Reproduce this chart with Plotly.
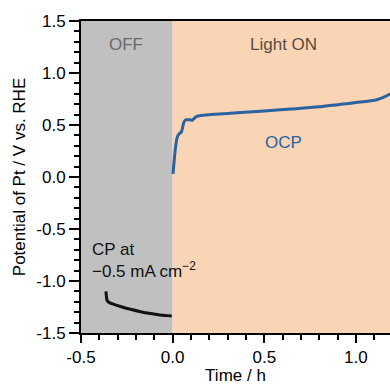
import plotly.graph_objects as go

# Constant-potential (CP) segment in the dark, before the light is switched on
cp_time = [-0.364, -0.361, -0.357, -0.345, -0.320, -0.280, -0.230, -0.175, -0.120, -0.070, -0.030, -0.005]
cp_potential = [-1.10, -1.15, -1.19, -1.208, -1.225, -1.248, -1.272, -1.295, -1.313, -1.326, -1.333, -1.337]

# Open-circuit potential (OCP) under illumination
ocp_time = [0.002, 0.008, 0.016, 0.022, 0.029, 0.038, 0.047, 0.055, 0.062, 0.072, 0.080,
            0.095, 0.107, 0.118, 0.135, 0.170, 0.208, 0.300, 0.370, 0.500, 0.645,
            0.700, 0.800, 0.918, 0.973, 1.050, 1.109, 1.150, 1.190]
ocp_potential = [0.03, 0.15, 0.29, 0.36, 0.40, 0.42, 0.43, 0.48, 0.53, 0.55, 0.55,
                 0.55, 0.545, 0.565, 0.585, 0.595, 0.60, 0.61, 0.62, 0.635, 0.655,
                 0.66, 0.675, 0.70, 0.71, 0.725, 0.74, 0.765, 0.80]

x_range = [-0.5, 1.186]
y_range = [-1.5, 1.5]
x_ticks = [-0.5, 0.0, 0.5, 1.0]
y_ticks = [-1.5, -1.0, -0.5, 0.0, 0.5, 1.0, 1.5]

FONT = "Liberation Sans, Arial, sans-serif"

fig = go.Figure()

fig.add_trace(go.Scatter(x=cp_time, y=cp_potential, mode="lines", line_shape="spline",
                         line=dict(color="#111111", width=3), showlegend=False))
fig.add_trace(go.Scatter(x=ocp_time, y=ocp_potential, mode="lines", line_shape="spline",
                         line=dict(color="#2b62a0", width=3, smoothing=0.6), showlegend=False))

# Dark (OFF) and illuminated (Light ON) periods
fig.add_shape(type="rect", xref="x", yref="y", x0=-0.5, x1=0.0, y0=-1.5, y1=1.5,
              fillcolor="#c0c0c0", line_width=0, layer="below")
fig.add_shape(type="rect", xref="x", yref="y", x0=0.0, x1=1.3, y0=-1.5, y1=1.5,
              fillcolor="#f9d4b5", line_width=0, layer="below")

fig.add_annotation(x=-0.256, y=1.27, text="OFF", showarrow=False,
                   font=dict(family=FONT, size=17, color="#6a6a6a"))
fig.add_annotation(x=0.606, y=1.27, text="Light ON", showarrow=False,
                   font=dict(family=FONT, size=17, color="#5a4b40"))
fig.add_annotation(x=0.606, y=0.33, text="OCP", showarrow=False,
                   font=dict(family=FONT, size=17, color="#2b62a0"))
fig.add_annotation(x=-0.45, y=-0.80, text="CP at<br>\u22120.5 mA cm<sup>\u22122</sup>",
                   showarrow=False, xanchor="left", align="left",
                   font=dict(family=FONT, size=17, color="#111111"))

fig.update_xaxes(range=x_range, tickvals=x_ticks, ticktext=["-0.5", "0.0", "0.5", "1.0"],
                 showline=True, linecolor="black", linewidth=2, mirror=True,
                 ticks="outside", ticklen=8, tickwidth=2, tickcolor="black",
                 minor=dict(dtick=0.1, ticks="outside", ticklen=5, tickwidth=2, tickcolor="black"),
                 showgrid=False, zeroline=False,
                 tickfont=dict(family=FONT, size=17, color="black"),
                 title=dict(text="Time / h", standoff=0, font=dict(family=FONT, size=17, color="black")))
fig.update_yaxes(range=y_range, tickvals=y_ticks, ticktext=["-1.5", "-1.0", "-0.5", "0.0", "0.5", "1.0", "1.5"],
                 showline=True, linecolor="black", linewidth=2,
                 ticks="outside", ticklen=10, tickwidth=2, tickcolor="black",
                 minor=dict(dtick=0.1, ticks="outside", ticklen=5, tickwidth=2, tickcolor="black"),
                 showgrid=False, zeroline=False,
                 tickfont=dict(family=FONT, size=17, color="black"),
                 title=dict(text="Potential of Pt / V vs. RHE", standoff=6,
                            font=dict(family=FONT, size=17, color="black")))

fig.update_layout(width=390, height=385, margin=dict(l=81, r=0, t=21, b=52),
                  paper_bgcolor="white", plot_bgcolor="white")

fig.write_html("out.html")
